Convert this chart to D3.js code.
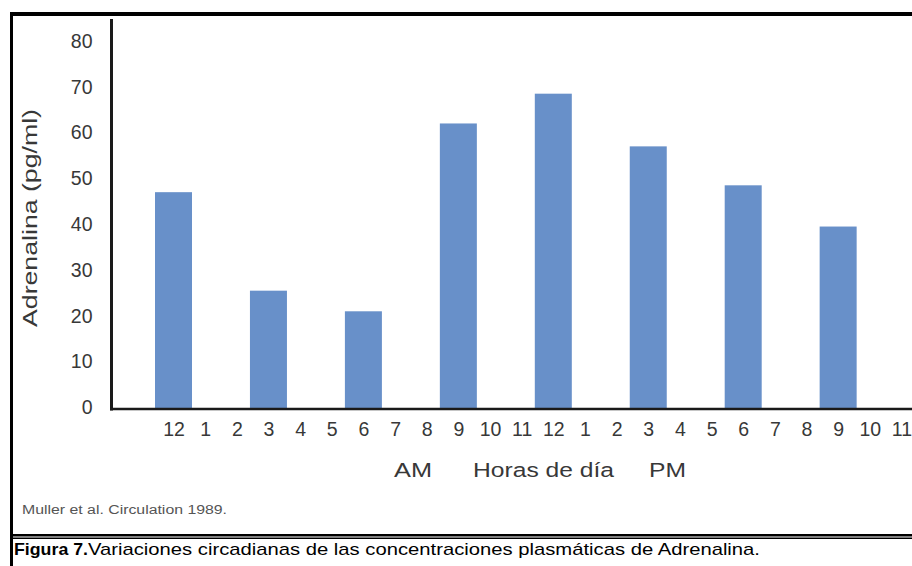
<!DOCTYPE html>
<html>
<head>
<meta charset="utf-8">
<script src="https://cdn.jsdelivr.net/npm/d3@7/dist/d3.min.js"></script>
<style>
  html, body { margin: 0; padding: 0; background: #fff; }
  svg { display: block; }
  text { font-family: "Liberation Sans", Arial, Helvetica, sans-serif; }
</style>
</head>
<body>
<svg id="chart" width="912" height="566"></svg>
<script>
// Hour-of-day labels along the x axis (AM then PM)
const hourLabels = ["12","1","2","3","4","5","6","7","8","9","10","11",
                    "12","1","2","3","4","5","6","7","8","9","10","11"];
// Sampling times (index into hourLabels) and plasma adrenaline (pg/ml)
const sampleHours = [0, 3, 6, 9, 12, 15, 18, 21];
const adrenaline  = [47, 25.5, 21, 62, 68.5, 57, 48.5, 39.5];
// Y axis ticks
const yTicks = [0, 10, 20, 30, 40, 50, 60, 70, 80];

const W = 912, H = 566;
const svg = d3.select("#chart");
svg.append("rect").attr("width", W).attr("height", H).attr("fill", "#fff");

const axisX = 111.5;     // vertical axis position
const axisY = 409;       // horizontal axis position

const x = d3.scalePoint()
  .domain(d3.range(hourLabels.length))
  .range([173.5, 173.5 + 23 * 31.65]);

const y = d3.scaleLinear().domain([0, 80]).range([407.5, 41]);

const barW = 37;
const textColor = "#383838";

// Bars
svg.append("g").selectAll("rect")
  .data(sampleHours.map((h, i) => ({ h, v: adrenaline[i] })))
  .join("rect")
  .attr("x", d => x(d.h) - barW / 2)
  .attr("y", d => y(d.v))
  .attr("width", barW)
  .attr("height", d => axisY - y(d.v))
  .attr("fill", "#6890c9");

// Y axis tick labels
const yAxis = svg.append("g")
  .attr("transform", `translate(${axisX},0)`)
  .call(d3.axisLeft(y).tickValues(yTicks).tickSize(0).tickPadding(19));
yAxis.select(".domain").remove();
yAxis.selectAll("text")
  .attr("font-size", 19.5)
  .attr("font-family", "'Liberation Sans', Arial, sans-serif")
  .attr("fill", textColor);

// X axis tick labels
const xAxis = svg.append("g")
  .attr("transform", `translate(0,${axisY})`)
  .call(d3.axisBottom(x).tickFormat(i => hourLabels[i]).tickSize(0).tickPadding(13));
xAxis.select(".domain").remove();
xAxis.selectAll("text")
  .attr("font-size", 19.5)
  .attr("font-family", "'Liberation Sans', Arial, sans-serif")
  .attr("fill", textColor);

// Axis lines
svg.append("line")
  .attr("x1", axisX).attr("x2", axisX)
  .attr("y1", 19).attr("y2", axisY + 1.5)
  .attr("stroke", "#1a1a1a").attr("stroke-width", 3);
svg.append("line")
  .attr("x1", axisX - 1.5).attr("x2", W)
  .attr("y1", axisY).attr("y2", axisY)
  .attr("stroke", "#1a1a1a").attr("stroke-width", 2.5);

// Axis titles
svg.append("text")
  .attr("transform", `translate(37,218) rotate(-90)`)
  .attr("text-anchor", "middle")
  .attr("font-size", 20.5)
  .attr("fill", textColor)
  .attr("textLength", 218)
  .attr("lengthAdjust", "spacingAndGlyphs")
  .text("Adrenalina (pg/ml)");

const xTitles = [
  { t: "AM", x: 394, w: 38 },
  { t: "Horas de día", x: 473, w: 141 },
  { t: "PM", x: 649, w: 37 }
];
svg.append("g").selectAll("text")
  .data(xTitles)
  .join("text")
  .attr("x", d => d.x)
  .attr("y", 477)
  .attr("font-size", 20.5)
  .attr("fill", textColor)
  .attr("textLength", d => d.w)
  .attr("lengthAdjust", "spacingAndGlyphs")
  .text(d => d.t);

// Source note
svg.append("text")
  .attr("x", 22).attr("y", 514)
  .attr("font-size", 12.5)
  .attr("fill", "#555")
  .attr("textLength", 205)
  .attr("lengthAdjust", "spacingAndGlyphs")
  .text("Muller et al. Circulation 1989.");

// Frame lines
svg.append("rect").attr("x", 10).attr("y", 12).attr("width", W - 10).attr("height", 4).attr("fill", "#000");
svg.append("rect").attr("x", 10).attr("y", 12).attr("width", 3).attr("height", H - 12).attr("fill", "#000");
svg.append("rect").attr("x", 10).attr("y", 534).attr("width", W - 10).attr("height", 2.5).attr("fill", "#000");
svg.append("rect").attr("x", 10).attr("y", 537.5).attr("width", W - 10).attr("height", 1.5).attr("fill", "#000");

// Figure caption
svg.append("text")
  .attr("x", 14).attr("y", 555)
  .attr("font-size", 17)
  .attr("font-weight", "bold")
  .attr("fill", "#000")
  .attr("textLength", 74)
  .attr("lengthAdjust", "spacingAndGlyphs")
  .text("Figura 7.");
svg.append("text")
  .attr("x", 88).attr("y", 555)
  .attr("font-size", 17)
  .attr("fill", "#000")
  .attr("textLength", 672)
  .attr("lengthAdjust", "spacingAndGlyphs")
  .text("Variaciones circadianas de las concentraciones plasmáticas de Adrenalina.");
</script>
</body>
</html>
